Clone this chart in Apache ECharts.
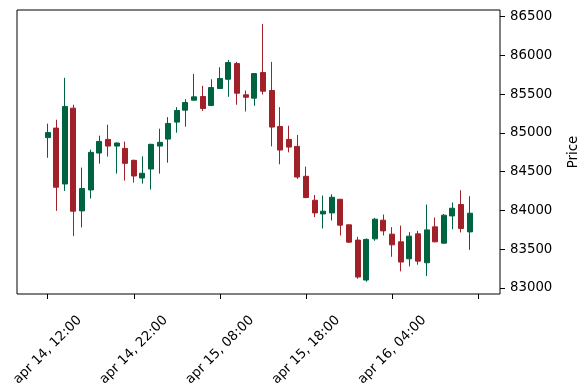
<!DOCTYPE html>
<html>
<head>
<meta charset="utf-8">
<script src="https://cdn.jsdelivr.net/npm/echarts@6/dist/echarts.min.js"></script>
<style>html,body{margin:0;padding:0;background:#fff;}#c{width:588px;height:390px;}</style>
</head>
<body>
<div id="c"></div>
<script>
// Hourly candles, index 0 = apr 14, 12:00
const opens  = [84940,85063,84342,85320,83995,84265,84741,84917,84831,84801,
                84647,84419,84535,84831,84921,85140,85294,85423,85470,85355,
                85573,85693,85895,85492,85449,85779,85548,85084,84917,84827,
                84441,84132,83956,83969,84145,83815,83618,83103,83634,83875,
                83695,83596,83377,83699,83326,83789,83579,83930,84077,83724];
const closes = [85005,84300,85342,83991,84283,84750,84891,84831,84870,84608,
                84445,84480,84853,84879,85123,85290,85393,85466,85316,85586,
                85702,85908,85513,85461,85766,85539,85076,84780,84818,84432,
                84167,83969,83991,84171,83811,83592,83142,83627,83888,83737,
                83557,83335,83669,83347,83750,83596,83939,84029,83768,83965];
const highs  = [85120,85171,85711,85364,84553,84785,84965,85106,84879,84888,
                84656,84698,84862,85055,85204,85333,85436,85762,85608,85693,
                85848,85942,85917,85548,85766,86406,85917,85333,85093,84973,
                84566,84200,84193,84209,84145,83820,83660,83640,83905,83948,
                83785,83806,83721,83737,84077,83910,83956,84103,84261,84184];
const lows   = [84680,83995,84252,83669,83781,84154,84604,84695,84476,84386,
                84360,84347,84270,84476,84617,85003,85081,85423,85286,85346,
                85573,85466,85364,85277,85351,85496,84827,84596,84750,84406,
                84158,83914,83768,83871,83678,83580,83120,83081,83609,83678,
                83403,83215,83279,83300,83154,83590,83570,83759,83717,83493];
const tickPositions = [0, 10, 20, 30, 40, 50];
const tickLabels = ["apr 14, 12:00", "apr 14, 22:00", "apr 15, 08:00", "apr 15, 18:00", "apr 16, 04:00"];
const priceTicks = [83000, 83500, 84000, 84500, 85000, 85500, 86000, 86500];

const data = opens.map((o, i) => [i, o, closes[i], lows[i], highs[i]]);
const FONT = 'DejaVu Sans';

const chart = echarts.init(document.getElementById('c'), null, {renderer: 'canvas'});
chart.setOption({
  animation: false,
  backgroundColor: '#fff',
  grid: {left: 17, right: 83, top: 10, bottom: 96, show: true, borderColor: '#000', borderWidth: 1, backgroundColor: 'transparent'},
  xAxis: {
    type: 'value', min: -3.56, max: 52.53,
    splitLine: {show: false},
    axisLine: {show: false, onZero: false},
    axisTick: {show: true, inside: false, length: 5, lineStyle: {color: '#000', width: 1}, customValues: tickPositions},
    axisLabel: {
      show: true, rotate: 45, align: 'center', verticalAlign: 'middle', margin: 56,
      fontFamily: FONT, fontSize: 13.3, color: '#000',
      customValues: tickPositions.slice(0, tickLabels.length),
      formatter: function (v) { const k = tickPositions.indexOf(Math.round(v)); return k >= 0 && k < tickLabels.length ? tickLabels[k] : ''; }
    }
  },
  yAxis: {
    type: 'value', position: 'right', min: 82923, max: 86586, scale: true,
    splitLine: {show: false},
    axisLine: {show: false, onZero: false},
    axisTick: {show: true, inside: false, length: 5, lineStyle: {color: '#000', width: 1}, customValues: priceTicks},
    axisLabel: {show: true, margin: 10, fontFamily: FONT, fontSize: 13.3, color: '#000', customValues: priceTicks,
      formatter: function (v) { return String(Math.round(v)); }},
    name: 'Price', nameLocation: 'middle', nameGap: 67, nameRotate: 90,
    nameTextStyle: {fontFamily: FONT, fontSize: 13.3, color: '#000'}
  },
  series: [{
    type: 'candlestick',
    data: data,
    encode: {x: 0, y: [1, 2, 3, 4]},
    barWidth: 5.5,
    itemStyle: {color: '#006340', color0: '#A02128', borderColor: '#006340', borderColor0: '#A02128', borderWidth: 1}
  }]
});
</script>
</body>
</html>
